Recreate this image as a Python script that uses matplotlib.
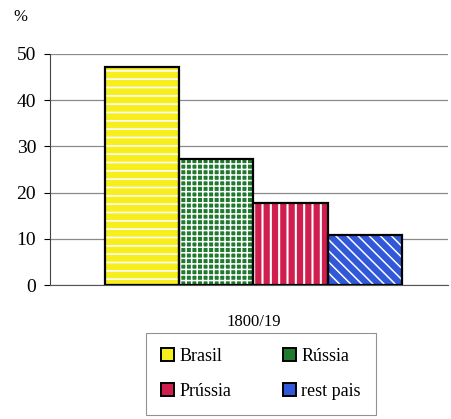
import matplotlib
matplotlib.use("Agg")
import matplotlib.pyplot as plt
from matplotlib.patches import Patch

plt.rcParams['font.family'] = ['Liberation Serif', 'DejaVu Serif']

period = "1800/19"
series = ["Brasil", "Rússia", "Prússia", "rest pais"]
values = [47.2, 27.3, 17.7, 10.8]
colors = ["#f7ee1e", "#1f7a2e", "#d01f4e", "#3058d8"]
hatches = ["--", "+++", "||", "\\\\\\"]
hatch_lw = [1.2, 1.1, 1.5, 1.1]
yticks = [0, 10, 20, 30, 40, 50]

fig = plt.figure(figsize=(4.52, 4.19), dpi=100)
ax = fig.add_axes([50/452, 1-285/419, 398/452, (285-54)/419])

w = 0.187
n = len(series)
offsets = [(i - (n-1)/2) * w + 0.011 for i in range(n)]
for off, v, c, h, hl in zip(offsets, values, colors, hatches, hatch_lw):
    with plt.rc_context({'hatch.linewidth': hl}):
        ax.bar(off, v, width=w, color=c, hatch=h, edgecolor="white", linewidth=0, zorder=2)
    ax.bar(off, v, width=w, fill=False, edgecolor="black", linewidth=1.6, zorder=3)

ax.set_xlim(-0.5, 0.5)
ax.set_ylim(0, 50)
ax.set_yticks(yticks)
ax.set_xticks([0.011])
ax.set_xticklabels([period], fontsize=12)
ax.tick_params(axis='x', length=0, pad=21)
ax.tick_params(axis='y', labelsize=14, length=4, direction='out', pad=6)
ax.yaxis.grid(True, color="#8a8a8a", linewidth=0.9, zorder=0)
ax.spines['top'].set_visible(False)
ax.spines['right'].set_visible(False)
ax.spines['left'].set_color("#444444")
ax.spines['bottom'].set_color("#555555")
ax.set_axisbelow(True)

fig.text(13/452, 1-17/419, "%", fontsize=12, va='center', ha='left')

order = [0, 2, 1, 3]
handles = [Patch(facecolor=colors[i], edgecolor='black', linewidth=1.4) for i in order]
labels = [series[i] for i in order]
leg = fig.legend(handles, labels, loc='center', bbox_to_anchor=(261/452, 1-374/419),
                 ncol=2, fontsize=13, frameon=True, fancybox=False, edgecolor='#777777',
                 handlelength=0.7, handleheight=0.7, handletextpad=0.3, columnspacing=2.9,
                 labelspacing=1.0, borderpad=0.85)
leg.get_frame().set_linewidth(0.8)

fig.savefig("out.png", dpi=100)
